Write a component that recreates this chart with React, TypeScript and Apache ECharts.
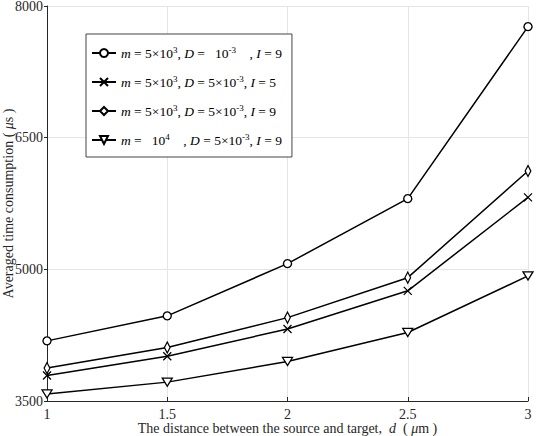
import React, { useEffect, useRef } from "react";
import * as echarts from "echarts";

// distance between source and target (μm)
const distances = [1, 1.5, 2, 2.5, 3];

// averaged time consumption (μs) for each parameter set
const seriesCircle = [4185, 4470, 5065, 5805, 7765];
const seriesCross = [3790, 4010, 4320, 4755, 5820];
const seriesDiamond = [3875, 4110, 4450, 4905, 6120];
const seriesTriangle = [3580, 3715, 3950, 4280, 4925];

const seriesNames = [
  "m=5e3, D=1e-3, I=9",
  "m=5e3, D=5e-3, I=5",
  "m=5e3, D=5e-3, I=9",
  "m=1e4, D=5e-3, I=9",
];

// rich-text legend labels (italic symbols, superscript exponents)
const legendLabels: Record<string, string> = {
  [seriesNames[0]]:
    "{i|m}{n| = 5×10}{s|3}{n|, }{i|D}{n| =   10}{s|-3}{n|    , }{i|I}{n| = 9}",
  [seriesNames[1]]:
    "{i|m}{n| = 5×10}{s|3}{n|, }{i|D}{n| = 5×10}{s|-3}{n|, }{i|I}{n| = 5}",
  [seriesNames[2]]:
    "{i|m}{n| = 5×10}{s|3}{n|, }{i|D}{n| = 5×10}{s|-3}{n|, }{i|I}{n| = 9}",
  [seriesNames[3]]:
    "{i|m}{n| =   10}{s|4}{n|    , }{i|D}{n| = 5×10}{s|-3}{n|, }{i|I}{n| = 9}",
};

const FONT = "'Liberation Serif', 'Times New Roman', serif";
const TEXT_COLOR = "#262626";

const circlePath = "path://M5,0A5,5 0 1,1 4.99,0Z";
const diamondPath = "path://M5,0L10,7L5,14L0,7Z";
const crossPath = "path://M0,0L10,10M10,0L0,10";
const triangleDownPath = "path://M0,0L10,0L5,9Z";

export default function App() {
  const ref = useRef<HTMLDivElement>(null);

  useEffect(() => {
    if (!ref.current) return;
    const chart = echarts.init(ref.current, undefined, { renderer: "svg" });

    const makeSeries = (
      name: string,
      values: number[],
      symbol: string,
      symbolSize: number | number[]
    ) => ({
      name,
      type: "line",
      data: distances.map((d, i) => [d, values[i]]),
      symbol,
      symbolSize,
      symbolKeepAspect: true,
      showAllSymbol: true,
      lineStyle: { color: "#000", width: 1.5 },
      itemStyle: { color: "#fff", borderColor: "#000", borderWidth: 1.3 },
      emphasis: { disabled: true },
      z: 3,
    });

    const richBase = {
      n: { fontFamily: FONT, fontSize: 13.5, color: "#000", lineHeight: 16 },
      i: {
        fontFamily: FONT,
        fontSize: 13.5,
        fontStyle: "italic",
        color: "#000",
        lineHeight: 16,
      },
      s: {
        fontFamily: FONT,
        fontSize: 9,
        color: "#000",
        verticalAlign: "top",
        lineHeight: 9,
      },
    };

    const axisNameRich = {
      n: { fontFamily: FONT, fontSize: 14, color: TEXT_COLOR, lineHeight: 14 },
      i: {
        fontFamily: FONT,
        fontSize: 14,
        fontStyle: "italic",
        color: TEXT_COLOR,
        lineHeight: 14,
      },
    };

    chart.setOption({
      animation: false,
      backgroundColor: "#fff",
      textStyle: { fontFamily: FONT },
      grid: {
        left: 47,
        right: 8,
        top: 6,
        bottom: 35,
        containLabel: false,
        outerBoundsMode: "none",
      },
      legend: {
        show: true,
        orient: "vertical",
        left: 86,
        top: 34,
        width: 198,
        padding: [11, 10, 10, 5],
        itemGap: 14,
        itemWidth: 24,
        itemHeight: 10,
        backgroundColor: "#fff",
        borderColor: "#444",
        borderWidth: 1,
        selectedMode: false,
        data: seriesNames,
        formatter: (name: string) => legendLabels[name],
        textStyle: { fontFamily: FONT, fontSize: 13.5, rich: richBase },
      },
      xAxis: {
        type: "value",
        min: 1,
        max: 3,
        interval: 0.5,
        name: "{n|The distance between the source and target,  }{i|d}{n|  ( }{i|μ}{n|m )}",
        nameLocation: "middle",
        nameGap: 20,
        nameMoveOverlap: false,
        nameTextStyle: { fontFamily: FONT, lineHeight: 14, rich: axisNameRich },
        axisLine: { show: true, onZero: false, lineStyle: { color: "#262626", width: 1 } },
        axisTick: { show: true, inside: true, length: 4, lineStyle: { color: "#262626" } },
        axisLabel: {
          fontFamily: FONT,
          fontSize: 14,
          lineHeight: 13,
          color: TEXT_COLOR,
          margin: 7,
          formatter: (v: number) => String(v),
        },
        splitLine: { show: true, lineStyle: { color: "#e5e5e5", width: 1 } },
      },
      yAxis: {
        type: "value",
        min: 3500,
        max: 8000,
        interval: 1500,
        name: "{n|Averaged time consumption ( }{i|μ}{n|s )}",
        nameLocation: "middle",
        nameGap: 32,
        nameMoveOverlap: false,
        nameTextStyle: { fontFamily: FONT, lineHeight: 14, rich: axisNameRich },
        axisLine: { show: true, onZero: false, lineStyle: { color: "#262626", width: 1 } },
        axisTick: { show: true, inside: false, length: 3, lineStyle: { color: "#262626" } },
        axisLabel: {
          fontFamily: FONT,
          fontSize: 14,
          color: TEXT_COLOR,
          margin: 4,
          formatter: (v: number) => String(v),
        },
        splitLine: { show: true, lineStyle: { color: "#e5e5e5", width: 1 } },
      },
      series: [
        makeSeries(seriesNames[0], seriesCircle, circlePath, 8),
        makeSeries(seriesNames[1], seriesCross, crossPath, 8),
        makeSeries(seriesNames[2], seriesDiamond, diamondPath, [8, 11]),
        makeSeries(seriesNames[3], seriesTriangle, triangleDownPath, [10, 9]),
      ],
    });

    return () => chart.dispose();
  }, []);

  return (
    <div
      ref={ref}
      style={{ position: "fixed", left: 0, top: 0, width: 536, height: 436 }}
    />
  );
}
